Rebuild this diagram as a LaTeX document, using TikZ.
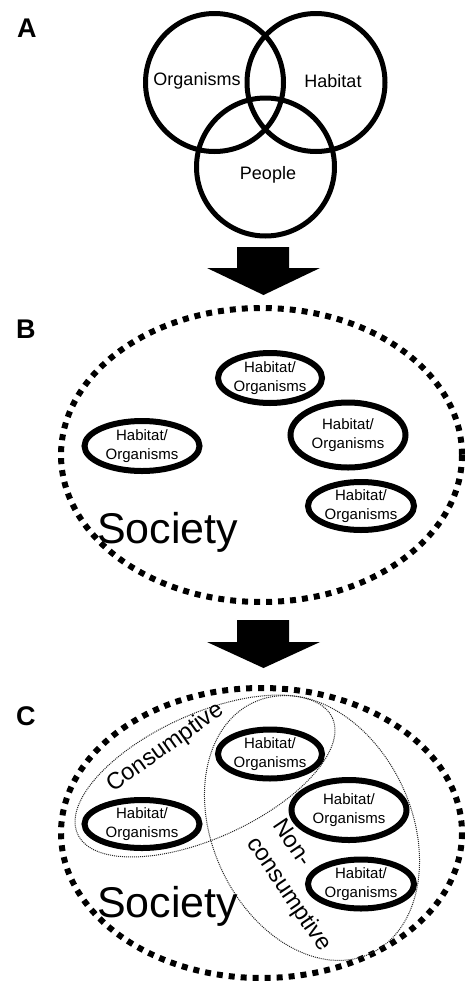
\documentclass[tikz,border=0pt]{standalone}
\usepackage{fontspec}
\setmainfont{Liberation Sans}
\usetikzlibrary{shapes.geometric}

\tikzset{
  venn/.style = {draw, circle, line width = 5pt, minimum size = 138pt, inner sep = 0pt},
  vennlabel/.style = {font = \fontsize{18}{22}\selectfont, inner sep = 0pt},
  habitat/.style = {draw, ellipse, line width = 6pt, inner sep = 0pt, align = center,
    font = \fontsize{15}{19}\selectfont},
  society/.style = {line width = 6pt, dash pattern = on 6pt off 6pt},
  usezone/.style = {line width = 1pt, dash pattern = on 1pt off 1pt, black!85},
  uselabel/.style = {font = \fontsize{23.5}{31}\selectfont, inner sep = 0pt},
  panel/.style = {font = \fontsize{27}{30}\selectfont\bfseries, anchor = base west, inner sep = 0pt},
  bigword/.style = {font = \fontsize{43}{50}\selectfont, anchor = base west, inner sep = 0pt}
}

\begin{document}
\begin{tikzpicture}[x = 1pt, y = -1pt]
        \useasboundingbox (0, 0) rectangle (465, 983);

        % A: three circles
        \node[panel] (labA) at (17, 37) {A};
        \node[venn] (org) at (214.5, 82.5) {};
        \node[venn] (hab) at (316, 82.5) {};
        \node[venn] (ppl) at (265.5, 167) {};
        \node[vennlabel] (orgtxt) at (197, 81) {Organisms};
        \node[vennlabel] (habtxt) at (333, 81) {Habitat};
        \node[vennlabel] (ppltxt) at (268, 175) {People};

        \fill (237, 247) -- (289, 247) -- (289, 268) -- (320, 268) -- (263.5, 295) -- (207, 268) -- (237, 268) -- cycle;

        % B: society with patches
        \node[panel] (labB) at (16, 338) {B};
        \draw[society] (261.5, 455) ellipse (200.5 and 147);
        \node[habitat, minimum width = 104pt, minimum height = 50pt] (b1) at (270, 378) {Habitat/\\Organisms};
        \node[habitat, minimum width = 115pt, minimum height = 50pt] (b2) at (142, 446) {Habitat/\\Organisms};
        \node[habitat, minimum width = 115pt, minimum height = 65pt] (b3) at (348, 435) {Habitat/\\Organisms};
        \node[habitat, minimum width = 106pt, minimum height = 48pt] (b4) at (361, 506) {Habitat/\\Organisms};
        \node[bigword] (socB) at (97, 543) {Society};

        \fill (237, 620) -- (289, 620) -- (289, 642) -- (320, 642) -- (263.5, 668) -- (207, 642) -- (237, 642) -- cycle;

        % C: society with use zones
        \node[panel] (labC) at (16, 725) {C};
        \draw[society] (261.5, 833) ellipse (200.5 and 145);
        \draw[usezone, rotate around = {24.5:(205, 776)}] (205, 776) ellipse (140 and 62);
        \draw[usezone, rotate around = {-65:(312, 828)}] (312, 828) ellipse (138.5 and 99.5);
        \node[habitat, minimum width = 104pt, minimum height = 49pt] (c1) at (270, 754) {Habitat/\\Organisms};
        \node[habitat, minimum width = 115pt, minimum height = 48pt] (c2) at (142, 824) {Habitat/\\Organisms};
        \node[habitat, minimum width = 115pt, minimum height = 60pt] (c3) at (349, 810) {Habitat/\\Organisms};
        \node[habitat, minimum width = 106pt, minimum height = 49pt] (c4) at (361, 884) {Habitat/\\Organisms};
        \node[bigword] (socC) at (97, 917) {Society};
        \node[uselabel, anchor = base, rotate = 35.5] (cons) at (169, 753) {Consumptive};
        \node[uselabel, align = left, rotate = -56] (noncons) at (301, 886) {Non-\\consumptive};
    \end{tikzpicture}
\end{document}
